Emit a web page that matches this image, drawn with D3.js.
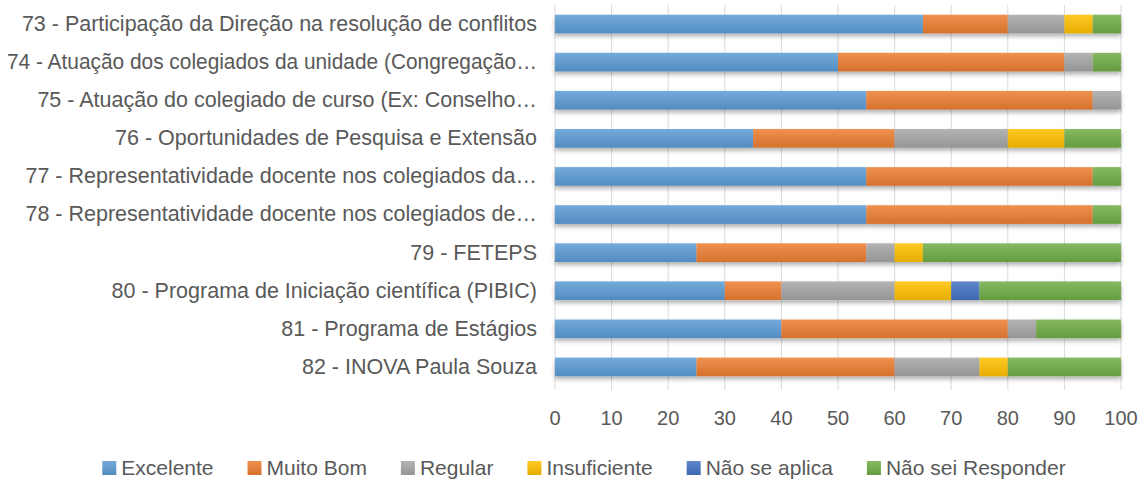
<!DOCTYPE html>
<html>
<head>
<meta charset="utf-8">
<script src="https://cdn.jsdelivr.net/npm/d3@7"></script>
<style>
  body { margin: 0; background: #fff; }
  svg text { font-family: "Liberation Sans", Arial, sans-serif; fill: #595959; }
</style>
</head>
<body>
<div id="chart"></div>
<script>
var categories = [
    "73 - Participação da Direção na resolução de conflitos",
    "74 - Atuação dos colegiados da unidade (Congregação…",
    "75 - Atuação do colegiado de curso (Ex: Conselho…",
    "76 - Oportunidades de Pesquisa e Extensão",
    "77 - Representatividade docente nos colegiados da…",
    "78 - Representatividade docente nos colegiados de…",
    "79 - FETEPS",
    "80 - Programa de Iniciação científica (PIBIC)",
    "81 - Programa de Estágios",
    "82 - INOVA Paula Souza"
];
var seriesNames = ["Excelente", "Muito Bom", "Regular", "Insuficiente", "Não se aplica", "Não sei Responder"];
var excelente   = [65, 50, 55, 35, 55, 55, 25, 30, 40, 25];
var muitoBom    = [15, 40, 40, 25, 40, 40, 30, 10, 40, 35];
var regular     = [10,  5,  5, 20,  0,  0,  5, 20,  5, 15];
var insuficiente= [ 5,  0,  0, 10,  0,  0,  5, 10,  0,  5];
var naoAplica   = [ 0,  0,  0,  0,  0,  0,  0,  5,  0,  0];
var naoSei      = [ 5,  5,  0, 10,  5,  5, 35, 25, 15, 20];
var xTicks = [0, 10, 20, 30, 40, 50, 60, 70, 80, 90, 100];
var colors = ["#5B9BD5", "#ED7D31", "#A5A5A5", "#FFC000", "#4472C4", "#70AD47"];

var width = 1143, height = 480;
var svg = d3.select("#chart").append("svg")
    .attr("width", width).attr("height", height);

var plotLeft = 555, plotRight = 1121, plotTop = 5, plotBottom = 386;

// build rows for the stack
var allSeries = [excelente, muitoBom, regular, insuficiente, naoAplica, naoSei];
var rows = categories.map(function (c, i) {
    var r = {cat: c};
    seriesNames.forEach(function (s, j) { r[s] = allSeries[j][i]; });
    return r;
});
var stacked = d3.stack().keys(seriesNames)(rows);

var x = d3.scaleLinear().domain([0, 100]).range([plotLeft, plotRight]);
var y = d3.scaleBand().domain(categories).range([plotTop, plotBottom]).paddingInner(0.51).paddingOuter(0.255);

var defs = svg.append("defs");
var shadow = defs.append("filter").attr("id", "shadow")
    .attr("x", "-5%").attr("y", "-30%").attr("width", "110%").attr("height", "190%");
shadow.append("feDropShadow")
    .attr("dx", 0).attr("dy", 3).attr("stdDeviation", 2)
    .attr("flood-color", "#000").attr("flood-opacity", 0.3);

colors.forEach(function (c, i) {
    var g = defs.append("linearGradient").attr("id", "grad" + i)
        .attr("x1", 0).attr("y1", 0).attr("x2", 0).attr("y2", 1);
    g.append("stop").attr("offset", "0%").attr("stop-color", d3.interpolateRgb(c, "#fff")(0.15));
    g.append("stop").attr("offset", "100%").attr("stop-color", d3.interpolateRgb(c, "#000")(0.1));
});

// gridlines
svg.append("g").selectAll("line").data(xTicks).join("line")
    .attr("x1", function (d) { return x(d); })
    .attr("x2", function (d) { return x(d); })
    .attr("y1", plotTop).attr("y2", plotBottom + 4)
    .attr("stroke", "#D9D9D9").attr("stroke-width", 1);

// bars
var layers = svg.append("g").attr("filter", "url(#shadow)");
stacked.forEach(function (layer, i) {
    layers.append("g").selectAll("rect").data(layer).join("rect")
        .attr("x", function (d) { return x(d[0]); })
        .attr("y", function (d) { return y(d.data.cat); })
        .attr("width", function (d) { return x(d[1]) - x(d[0]); })
        .attr("height", y.bandwidth())
        .attr("fill", "url(#grad" + i + ")");
});

// category labels (squeeze the long ones so they stay on the page)
var maxLabel = 530;
svg.append("g").selectAll("text").data(categories).join("text")
    .attr("x", 537)
    .attr("y", function (d) { return y(d) + y.bandwidth() / 2; })
    .attr("dy", "0.32em")
    .attr("text-anchor", "end")
    .style("font-size", "21.5px")
    .text(function (d) { return d; })
    .each(function () {
        if (this.getComputedTextLength() > maxLabel) {
            d3.select(this).attr("textLength", maxLabel).attr("lengthAdjust", "spacingAndGlyphs");
        }
    });

// x tick labels
svg.append("g").selectAll("text").data(xTicks).join("text")
    .attr("x", function (d) { return x(d); })
    .attr("y", 425)
    .attr("text-anchor", "middle")
    .style("font-size", "20px")
    .text(function (d) { return d; });

// legend
var legend = svg.append("g");
var items = legend.selectAll("g").data(seriesNames).join("g");
items.append("rect")
    .attr("width", 14).attr("height", 14)
    .attr("y", 461)
    .attr("fill", function (d, i) { return "url(#grad" + i + ")"; });
items.append("text")
    .attr("x", 19).attr("y", 475)
    .style("font-size", "21px")
    .text(function (d) { return d; });

var gap = 34;
var offsets = [], pos = 0;
items.each(function (d, i) {
    offsets.push(pos);
    pos += 19 + this.querySelector("text").getComputedTextLength() + gap;
});
var total = pos - gap;
var start = (95 + 1073) / 2 - total / 2;
items.attr("transform", function (d, i) { return "translate(" + (start + offsets[i]) + ",0)"; });
</script>
</body>
</html>
